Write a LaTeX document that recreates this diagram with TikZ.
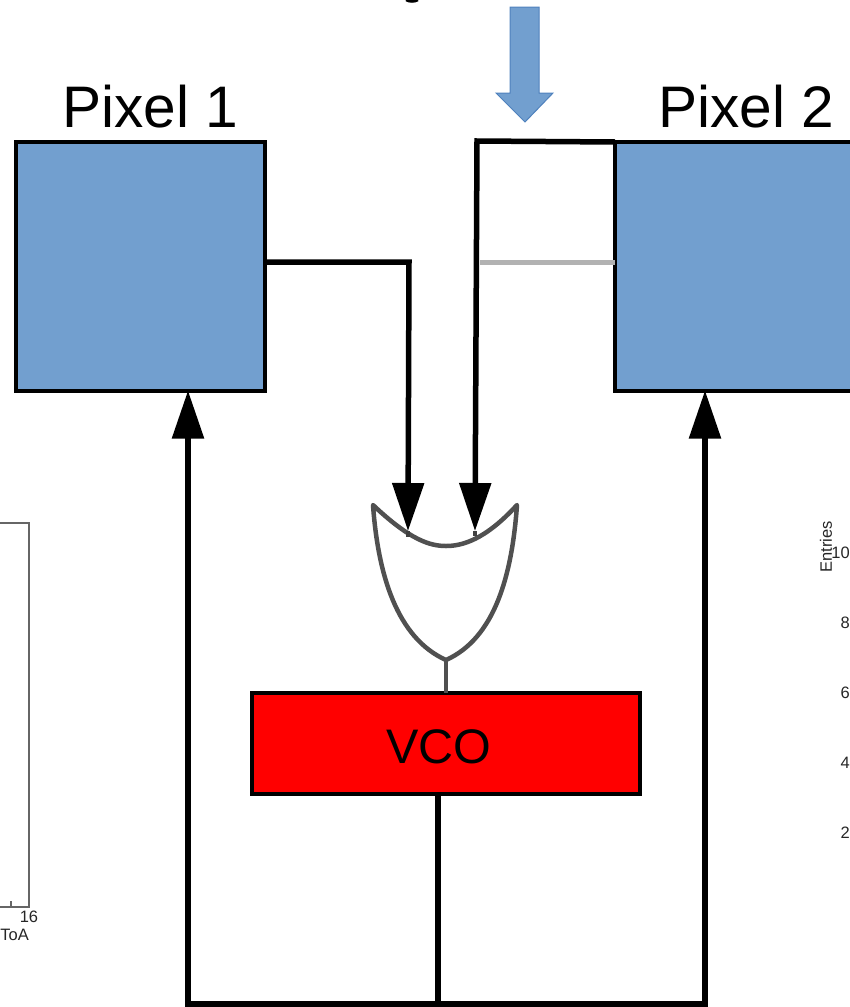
\documentclass[tikz,border=0pt]{standalone}
\usepackage{fontspec}
\setmainfont{Liberation Sans}
\usetikzlibrary{arrows.meta}
\definecolor{pixblue}{HTML}{729FCF}
\definecolor{arrowedge}{HTML}{4F81BD}
\definecolor{gategray}{HTML}{505050}
\definecolor{framegray}{HTML}{666666}
\tikzset{
  pixbox/.style={draw=black, fill=pixblue, line width=4pt, minimum width=249pt, minimum height=249pt, inner sep=0pt},
  wire/.style={draw=black, line width=5.5pt},
  tipwire/.style={wire, -{Triangle[length=48pt, width=31pt]}},
  ticklabel/.style={inner sep=0pt, font=\fontsize{16.5}{16.5}\selectfont, text=black!85},
}
\begin{document}
\begin{tikzpicture}[x=1pt, y=-1pt]
   \clip (0,0) rectangle (850,1007);
   % pixels
   \node[pixbox] (px1) at (140.5,266.5) {};
   \node[pixbox] (px2) at (739.5,266.5) {};
   \node[inner sep=0pt, font=\fontsize{58.6}{58.6}\selectfont] (lab1) at (150,107) {Pixel 1};
   \node[inner sep=0pt, font=\fontsize{58.6}{58.6}\selectfont] (lab2) at (746,107) {Pixel 2};
   % vco
   \node[draw=black, fill=red, line width=4pt, minimum width=388pt, minimum height=101pt, inner sep=0pt] (vco) at (446,743.5) {};
   \node[inner sep=0pt, font=\fontsize{48.5}{48.5}\selectfont] (vcolab) at (439,747) {VCO};
   % or gate
   \coordinate (gl) at (373,505);
   \coordinate (gr) at (517,505);
   \coordinate (gb) at (446,660);
   \coordinate (gvco) at (446,693);
   \draw[gategray, line width=4.5pt, line join=round] (gl) .. controls (410,540) and (430,546) .. (446,546) .. controls (462,546) and (485,540) .. (gr)
      .. controls (512,575) and (495,638) .. (gb) .. controls (397,638) and (378,575) .. (gl) -- cycle;
   \draw[gategray, line width=4.5pt] (gb) -- (gvco);
   % inputs to gate
   \coordinate (s1) at (408,537);
   \coordinate (s2) at (475,536);
   \coordinate (o1) at (265,262);
   \coordinate (k1) at (409,262);
   \coordinate (in1) at (408,531);
   \draw[line width=4pt, black!75] (in1) -- (s1);
   \draw[tipwire] (o1) -- (k1) -- (in1);
   \coordinate (o2) at (615,142);
   \coordinate (k2) at (477,141);
   \coordinate (in2) at (475,531);
   \draw[line width=4pt, black!75] (in2) -- (s2);
   \draw[tipwire] (o2) -- (k2) -- (in2);
   \coordinate (g0) at (480,262);
   \coordinate (g1) at (615,262);
   \draw[line width=5pt, black!30] (g0) -- (g1);
   % feedback
   \coordinate (vout) at (438,794);
   \coordinate (bus) at (438,1004);
   \coordinate (b1) at (188,1004);
   \coordinate (b2) at (705,1004);
   \coordinate (t1) at (188,390.5);
   \coordinate (t2) at (705,390.5);
   \draw[wire] (vout) -- (bus);
   \draw[tipwire] (bus) -- (b1) -- (t1);
   \draw[tipwire] (bus) -- (b2) -- (t2);
   % light arrow
   \draw[fill=pixblue, draw=arrowedge, line width=1pt] (510,7) -- (539,7) -- (539,93) -- (553,93) -- (525,122) -- (496,93) -- (510,93) -- cycle;
   % cut off letter at top
   \draw[line width=2.5pt] (406,0) .. controls (409,2) and (415,2) .. (418,0);
   % left plot
   \draw[framegray, line width=1.2pt] (0,523) -- (29,523) -- (29,907) -- (0,907);
   \draw[framegray, line width=1.2pt] (11,907) -- (11,901);
   \node[ticklabel] (t16) at (29,917) {16};
   \node[ticklabel, anchor=east] (toa) at (29,935) {ToA};
   % right plot
   \node[ticklabel, rotate=90] (ent) at (826,547) {Entries};
   \node[ticklabel, anchor=east] (y10) at (850,553) {10};
   \node[ticklabel, anchor=east] (y8) at (850,623) {8};
   \node[ticklabel, anchor=east] (y6) at (850,693) {6};
   \node[ticklabel, anchor=east] (y4) at (850,763) {4};
   \node[ticklabel, anchor=east] (y2) at (850,833) {2};
\end{tikzpicture}
\end{document}
